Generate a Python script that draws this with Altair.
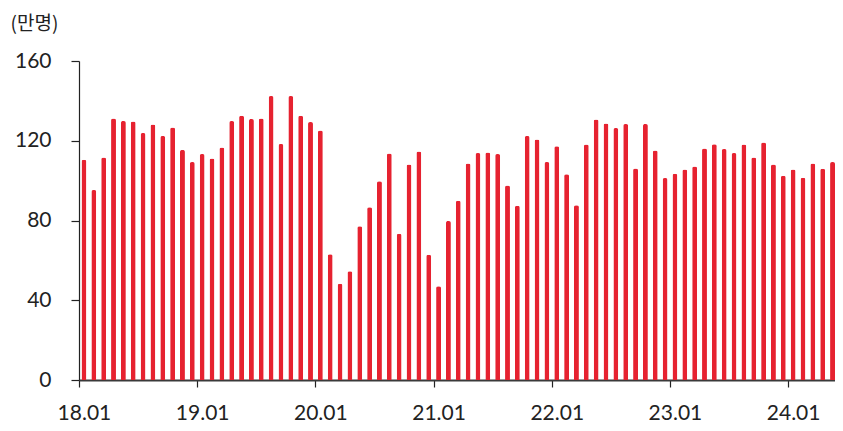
import altair as alt
import pandas as pd

months = [f"{y:02d}.{m:02d}" for y in range(18, 25) for m in range(1, 13)][:77]
visitors = [
    110.5, 95.3, 111.6, 131.2, 129.9, 129.6, 123.9, 128.1, 122.4, 126.7, 115.4, 109.3,
    113.3, 111.1, 116.6, 129.9, 132.6, 130.9, 131.2, 142.4, 118.4, 142.4, 132.6, 129.4,
    125.2, 63.1, 48.3, 54.5, 77.1, 86.7, 99.7, 113.6, 73.3, 108.1, 114.6, 62.8,
    47.0, 79.7, 89.9, 108.6, 113.8, 114.1, 113.3, 97.5, 87.4, 122.4, 120.6, 109.3,
    117.3, 103.2, 87.7, 118.1, 130.7, 128.6, 126.4, 128.4, 106.1, 128.4, 115.1, 101.3,
    103.5, 105.6, 107.1, 116.1, 118.3, 115.8, 113.8, 118.1, 111.6, 119.1, 108.1, 102.5,
    105.6, 101.5, 108.6, 106.0, 109.3,
]
x_ticks = ["18.01", "19.01", "20.01", "21.01", "22.01", "23.01", "24.01"]
y_ticks = [0, 40, 80, 120, 160]
unit_label = "(만명)"

df = pd.DataFrame({"month": months, "value": visitors})

chart = (
    alt.Chart(df)
    .mark_bar(color="#E62230", cornerRadiusTopLeft=2, cornerRadiusTopRight=2)
    .encode(
        x=alt.X(
            "month:N",
            sort=months,
            scale=alt.Scale(paddingInner=0.5, paddingOuter=0.127, align=1),
            axis=alt.Axis(
                values=x_ticks,
                labelAngle=0,
                title=None,
                tickSize=7,
                tickOffset=-5,
                labelOffset=5,
                labelPadding=15,
                labelFont="Lato",
                labelFontSize=21,
                labelColor="#222222",
                domainColor="#3a3a3a",
                domainWidth=2,
                tickColor="#222222",
                tickWidth=1.2,
                grid=False,
            ),
        ),
        y=alt.Y(
            "value:Q",
            scale=alt.Scale(domain=[0, 160], nice=False),
            axis=alt.Axis(
                values=y_ticks,
                title=unit_label,
                titleAngle=0,
                titleAlign="left",
                titleBaseline="middle",
                titleX=-69,
                titleY=-38,
                titleFont="Noto Sans CJK KR",
                titleFontSize=19,
                titleFontWeight="normal",
                titleColor="#222222",
                tickSize=8,
                labelPadding=20,
                labelFont="Lato",
                labelFontSize=21,
                labelColor="#222222",
                domainColor="#222222",
                domainWidth=1.2,
                tickColor="#222222",
                tickWidth=1.2,
                grid=False,
            ),
        ),
    )
    .properties(
        width=756,
        height=319,
        autosize=alt.AutoSizeParams(type="none"),
        padding={"left": 71, "top": 53, "right": 0, "bottom": 43},
    )
    .configure_view(stroke=None)
)

chart.save("out.html", embed_options={"renderer": "svg", "actions": False})
